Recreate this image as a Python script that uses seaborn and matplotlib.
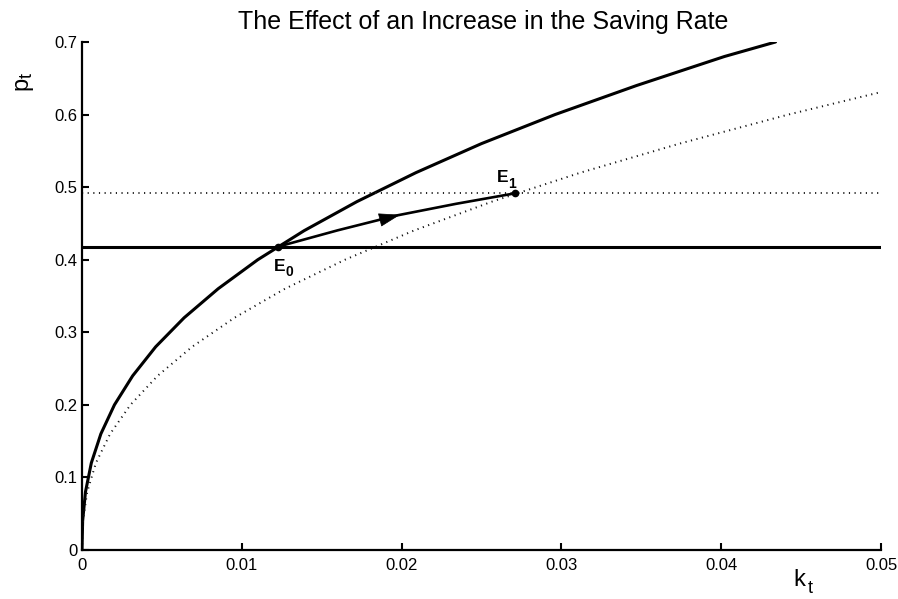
import matplotlib
matplotlib.use("Agg")
import matplotlib.pyplot as plt
import seaborn as sns
import pandas as pd

# Capital-price schedules before (solid) and after (dotted) the rise in the saving rate
p_old = [0.0, 0.04, 0.08, 0.12, 0.16, 0.20, 0.24, 0.28, 0.32, 0.36, 0.40,
         0.44, 0.48, 0.52, 0.56, 0.60, 0.64, 0.68, 0.70]
k_old = [0.0, 4.0e-5, 2.17e-4, 5.84e-4, 1.18e-3, 2.03e-3, 3.17e-3, 4.61e-3,
         6.39e-3, 8.52e-3, 1.10e-2, 1.39e-2, 1.72e-2, 2.09e-2, 2.50e-2,
         2.96e-2, 3.47e-2, 4.02e-2, 4.34e-2]

p_new = [0.0, 0.04, 0.08, 0.12, 0.16, 0.20, 0.24, 0.28, 0.32, 0.36, 0.40,
         0.44, 0.48, 0.52, 0.56, 0.60, 0.631]
k_new = [0.0, 6.0e-5, 3.24e-4, 8.72e-4, 1.76e-3, 3.03e-3, 4.73e-3, 6.89e-3,
         9.54e-3, 1.27e-2, 1.646e-2, 2.075e-2, 2.565e-2, 3.12e-2, 3.74e-2,
         4.42e-2, 5.0e-2]

# Steady-state price levels
p_star_old = 0.418
p_star_new = 0.4915

# Steady states and the transition path between them
E0 = (0.01227, 0.418)
E1 = (0.0271, 0.4915)
path_k = [0.01227, 0.0160, 0.0197, 0.0234, 0.0271]
path_p = [0.418, 0.4405, 0.461, 0.477, 0.4915]

xticks = [0, 0.01, 0.02, 0.03, 0.04, 0.05]
xtick_labels = ["0", "0.01", "0.02", "0.03", "0.04", "0.05"]
yticks = [0, 0.1, 0.2, 0.3, 0.4, 0.5, 0.6, 0.7]
ytick_labels = ["0", "0.1", "0.2", "0.3", "0.4", "0.5", "0.6", "0.7"]

sns.set_theme(style="ticks")
plt.rcParams["font.family"] = ["Liberation Sans", "DejaVu Sans"]
plt.rcParams["text.color"] = "black"

fig = plt.figure(figsize=(8.98, 5.99), dpi=100)
ax = fig.add_axes([82 / 898, 49 / 599, 799 / 898, 508 / 599])

old_df = pd.DataFrame({"k": k_old, "p": p_old})
new_df = pd.DataFrame({"k": k_new, "p": p_new})
path_df = pd.DataFrame({"k": path_k, "p": path_p})

dots = (0, (0.6, 2.3))
sns.lineplot(data=old_df, x="k", y="p", sort=False, estimator=None,
             color="black", lw=2.2, ax=ax)
sns.lineplot(data=new_df, x="k", y="p", sort=False, estimator=None,
             color="#111111", lw=1.4, ls=dots, ax=ax)

ax.axhline(p_star_old, color="black", lw=2.2)
ax.axhline(p_star_new, color="#222222", lw=1.4, ls=dots)

sns.lineplot(data=path_df, x="k", y="p", sort=False, estimator=None,
             color="black", lw=1.9, ax=ax)

# arrowhead in the middle of the transition path
ax.annotate("", xy=(path_k[2] + 0.0002, path_p[2] + 0.0009),
            xytext=(path_k[2] - 0.0006, path_p[2] - 0.0036),
            arrowprops=dict(arrowstyle="-|>,head_length=1.0,head_width=0.32",
                            color="black", lw=0.5, shrinkA=0, shrinkB=0,
                            mutation_scale=14))

ax.plot([E0[0], E1[0]], [E0[1], E1[1]], "o", color="black", ms=4.5)


def subscripted(x, y, base, sub, size, sub_size, dx, dy, weight="normal"):
    ax.text(x, y, base, fontsize=size, fontweight=weight, ha="left",
            va="baseline")
    ax.annotate(sub, xy=(x, y), xytext=(dx, dy), textcoords="offset points",
                fontsize=sub_size, fontweight=weight, ha="left",
                va="baseline")


subscripted(0.01200, 0.3842, "E", "0", 12.5, 10, 8.4, -3.8, weight="bold")
subscripted(0.02595, 0.5067, "E", "1", 12.5, 10, 8.4, -3.8, weight="bold")

ax.set_xlim(0, 0.05)
ax.set_ylim(0, 0.7)
ax.set_xticks(xticks)
ax.set_xticklabels(xtick_labels)
ax.set_yticks(yticks)
ax.set_yticklabels(ytick_labels)
ax.set_xlabel("")
ax.set_ylabel("")
ax.tick_params(direction="in", length=5, width=1.5, labelsize=12,
               colors="black")
ax.tick_params(axis="x", pad=6)
ax.tick_params(axis="y", pad=3.5)
for side in ("top", "right"):
    ax.spines[side].set_visible(False)
for side in ("left", "bottom"):
    ax.spines[side].set_linewidth(1.6)
    ax.spines[side].set_color("black")

fig.text(483 / 898, 1 - 22 / 599, "The Effect of an Increase in the Saving Rate",
         ha="center", va="center", fontsize=18, color="black")

# axis labels with lowered subscripts
fig.text(27 / 898, 1 - 90 / 599, "p", rotation=90, rotation_mode="anchor",
         ha="left", va="baseline", fontsize=17, color="black")
fig.text(32 / 898, 1 - 78 / 599, "t", rotation=90, rotation_mode="anchor",
         ha="left", va="baseline", fontsize=13, color="black")
fig.text(793 / 898, 1 - 586 / 599, "k", ha="left", va="baseline",
         fontsize=17, color="black")
fig.text(808 / 898, 1 - 593 / 599, "t", ha="left", va="baseline",
         fontsize=13, color="black")

fig.savefig("out.png", dpi=100)
